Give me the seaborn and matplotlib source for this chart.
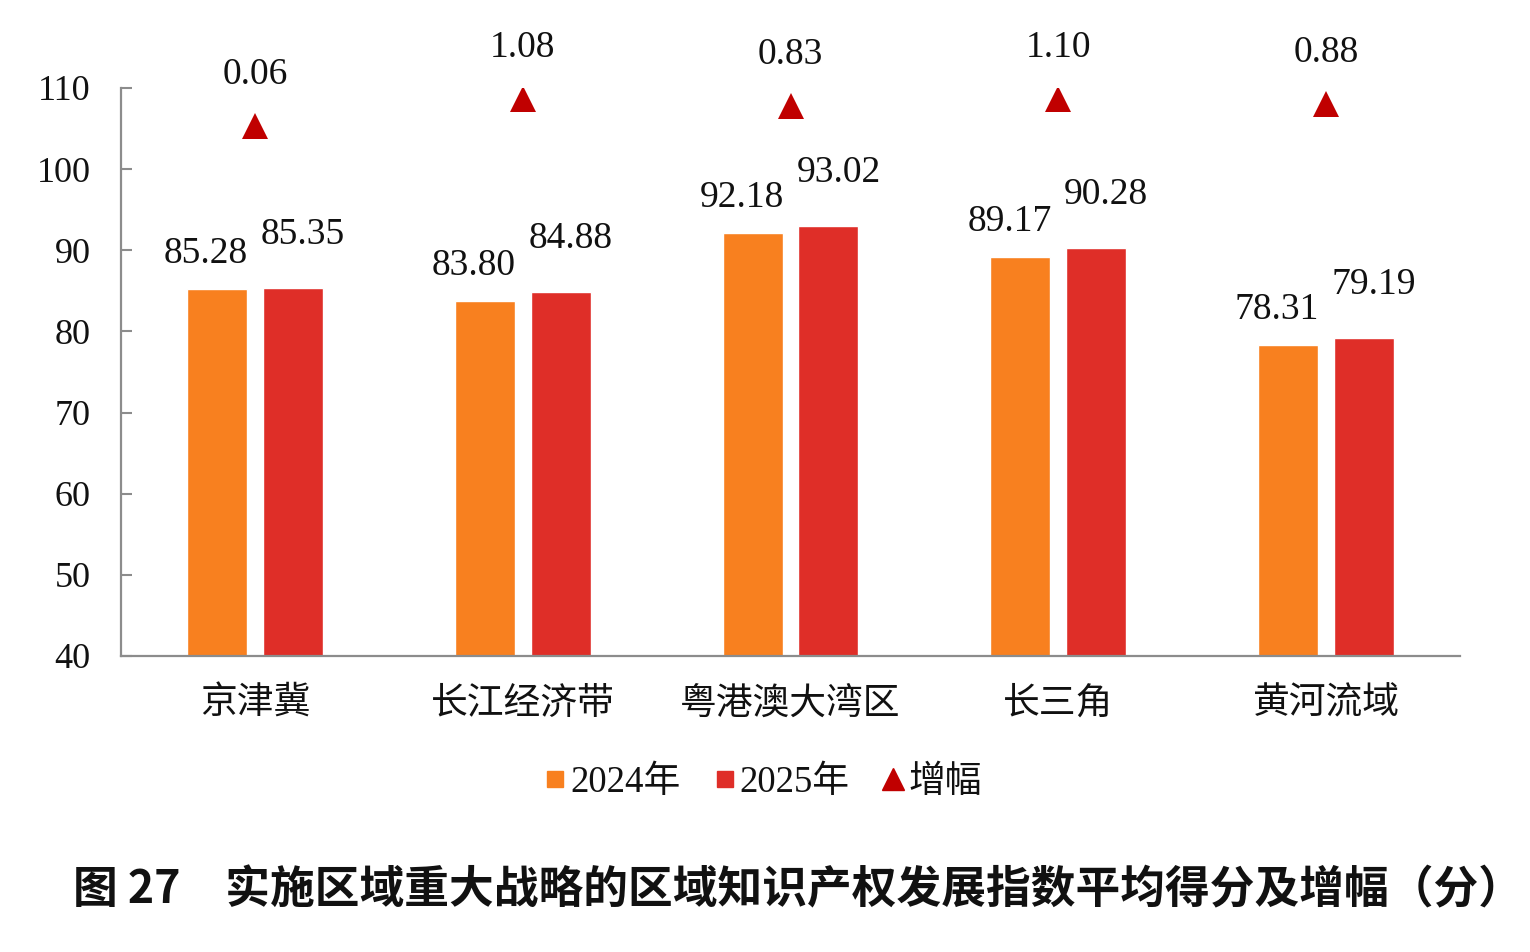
import numpy as np
import pandas as pd
import matplotlib
matplotlib.use('Agg')
import matplotlib.pyplot as plt
from matplotlib.lines import Line2D
import seaborn as sns

# ============================================================
# Donnees
# ============================================================
regions = ['京津冀', '长江经济带', '粤港澳大湾区', '长三角', '黄河流域']
score_2024 = [85.28, 83.80, 92.18, 89.17, 78.31]
score_2025 = [85.35, 84.88, 93.02, 90.28, 79.19]
increase = [0.06, 1.08, 0.83, 1.10, 0.88]
years = ['2024年', '2025年']

y_ticks = [40, 50, 60, 70, 80, 90, 100, 110]

c_2024 = '#F8801F'
c_2025 = '#DF2E28'
c_inc = '#C00000'
axis_grey = '#8C8C8C'

sns.set_theme(style='white')
plt.rcParams['font.family'] = ['Liberation Serif', 'Noto Sans CJK SC']

df = pd.DataFrame({
    'region': regions * 2,
    'year': [years[0]] * len(regions) + [years[1]] * len(regions),
    'score': score_2024 + score_2025,
})
df_inc = pd.DataFrame({'region': regions, 'inc': increase})

fig = plt.figure(figsize=(15.3, 9.52), dpi=100)
ax = fig.add_axes([121 / 1530, 1 - 656 / 952, (1460 - 121) / 1530, (656 - 88) / 952])

sns.barplot(data=df, x='region', y='score', hue='year', order=regions,
            hue_order=years, palette=[c_2024, c_2025], width=0.567, gap=0.21,
            legend=False, ax=ax, saturation=1)

ax.set_ylim(40, 110)
ax.set_xlim(-0.5, 4.5)
ax.set_yticks(y_ticks)
ax.set_xlabel('')
ax.set_ylabel('')
ax.tick_params(axis='y', direction='in', length=8, width=1.5, color=axis_grey,
               labelsize=26, pad=22, left=True, labelcolor='#111111')
ax.tick_params(axis='x', length=0, pad=20, labelsize=26.5, labelcolor='#111111')
for lab in ax.get_xticklabels():
    lab.set_family(['Noto Sans CJK SC'])
for side in ['top', 'right']:
    ax.spines[side].set_visible(False)
for side in ['left', 'bottom']:
    ax.spines[side].set_color(axis_grey)
    ax.spines[side].set_linewidth(1.6)

# etiquettes des barres
for cont, dx, dy in zip(ax.containers, [-11, 10], [26, 44]):
    for bar in cont:
        h = bar.get_height()
        ax.annotate(f'{h:.2f}', (bar.get_x() + bar.get_width() / 2, h),
                    xytext=(dx, dy), textcoords='offset pixels',
                    ha='center', va='baseline', fontsize=27, color='#111111')

# increments sur axe secondaire
ax2 = ax.twinx()
sns.pointplot(data=df_inc, x='region', y='inc', order=regions, ax=ax2,
              color=c_inc, markers='^', linestyles='none', errorbar=None,
              markersize=19, markeredgewidth=0)
ax2.set_ylim(-20, 1.5)
ax2.set_xlim(-0.5, 4.5)
ax2.set_axis_off()
for i, v in enumerate(increase):
    ax2.annotate(f'{v:.2f}', (i, v), xytext=(0, 42), textcoords='offset pixels',
                 ha='center', va='baseline', fontsize=27, color='#111111')

# legende
handles = [
    Line2D([], [], marker='s', color=c_2024, linestyle='none', markersize=11),
    Line2D([], [], marker='s', color=c_2025, linestyle='none', markersize=11),
    Line2D([], [], marker='^', color=c_inc, linestyle='none', markersize=16),
]
fig.legend(handles, years + ['增幅'], loc='center', bbox_to_anchor=(763 / 1530, 1 - 783 / 952),
           ncol=3, frameon=False, fontsize=26.5, handlelength=0.6, handletextpad=0.1,
           columnspacing=0.9, labelcolor='#111111')

fig.text(798 / 1530, 1 - 890 / 952,
         '图 27　实施区域重大战略的区域知识产权发展指数平均得分及增幅（分）',
         ha='center', va='center', fontsize=32.2, fontweight='bold',
         family=['Noto Sans CJK SC'], color='#111111')

fig.savefig('out.png', dpi=100)
